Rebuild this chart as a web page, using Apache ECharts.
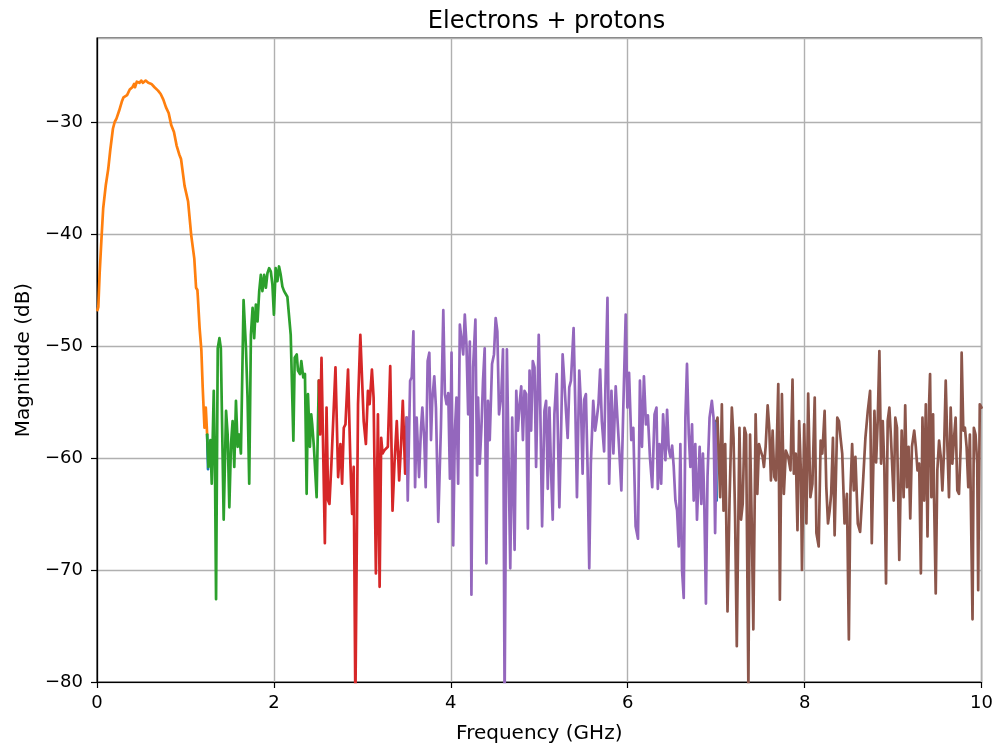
<!DOCTYPE html>
<html>
<head>
<meta charset="utf-8">
<script src="https://cdn.jsdelivr.net/npm/echarts@6/dist/echarts.min.js"></script>
<style>
html,body{margin:0;padding:0;background:#fff;overflow:hidden;}
#chart{width:996px;height:749px;}
</style>
</head>
<body>
<div id="chart"></div>
<script>
const titleText = "Electrons + protons";
const xName = "Frequency (GHz)";
const yName = "Magnitude (dB)";
const xTicks = [0, 2, 4, 6, 8, 10];
const yTicks = [-80, -70, -60, -50, -40, -30];

const blueA = [[1.245,-57.9],[1.255,-61.0]];
const blueB = [[6.995,-56.7],[7.005,-63.8]];

const orange = [[0.005,-46.8],[0.015,-46.5],[0.03,-43.5],[0.05,-40.5],[0.07,-37.7],[0.10,-35.6],[0.127,-34.2],[0.15,-32.5],[0.18,-30.6],[0.20,-30.0],[0.22,-29.7],[0.25,-29.0],[0.28,-28.2],[0.30,-27.8],[0.32,-27.9],[0.34,-27.6],[0.37,-27.1],[0.40,-26.9],[0.42,-26.6],[0.43,-26.9],[0.45,-26.4],[0.48,-26.5],[0.50,-26.3],[0.52,-26.5],[0.55,-26.3],[0.58,-26.5],[0.615,-26.6],[0.65,-26.9],[0.69,-27.2],[0.72,-27.5],[0.75,-28.0],[0.78,-28.7],[0.81,-29.2],[0.84,-30.3],[0.87,-30.9],[0.90,-32.1],[0.93,-32.9],[0.95,-33.3],[0.99,-35.7],[1.03,-37.1],[1.065,-40.1],[1.10,-42.2],[1.12,-44.8],[1.135,-45.0],[1.14,-45.6],[1.16,-48.4],[1.18,-50.4],[1.195,-53.7],[1.215,-57.3],[1.23,-55.5],[1.245,-57.9]];

const green = [[1.245,-57.9],[1.26,-60.8],[1.282,-58.4],[1.297,-62.3],[1.32,-54.0],[1.335,-62.0],[1.346,-72.6],[1.365,-50.2],[1.384,-49.3],[1.40,-50.2],[1.432,-65.5],[1.459,-55.8],[1.477,-57.9],[1.496,-64.4],[1.515,-58.75],[1.533,-56.7],[1.552,-60.8],[1.571,-54.9],[1.59,-59.0],[1.608,-57.9],[1.627,-59.6],[1.657,-45.9],[1.684,-50.2],[1.702,-54.6],[1.721,-62.3],[1.74,-49.0],[1.759,-46.6],[1.777,-49.3],[1.796,-46.3],[1.815,-47.8],[1.834,-45.1],[1.852,-43.65],[1.87,-45.1],[1.89,-43.65],[1.909,-44.8],[1.927,-43.5],[1.946,-43.05],[1.965,-43.35],[1.983,-44.5],[2.0,-47.2],[2.02,-43.05],[2.04,-44.2],[2.058,-42.9],[2.077,-43.65],[2.096,-44.7],[2.115,-45.1],[2.152,-45.6],[2.19,-49.0],[2.22,-58.45],[2.235,-51.05],[2.258,-50.75],[2.272,-52.2],[2.295,-52.5],[2.31,-51.35],[2.332,-52.8],[2.351,-52.5],[2.37,-63.2],[2.385,-54.3],[2.407,-59.0],[2.422,-56.1],[2.433,-57.0],[2.452,-59.0],[2.483,-63.5],[2.497,-57.3],[2.508,-53.1]];

const red = [[2.508,-53.1],[2.522,-57.9],[2.538,-51.05],[2.576,-67.6],[2.595,-55.5],[2.613,-63.8],[2.628,-64.1],[2.65,-60.5],[2.696,-51.9],[2.726,-61.7],[2.752,-58.75],[2.771,-62.3],[2.79,-57.3],[2.809,-57.0],[2.838,-52.1],[2.865,-60.5],[2.884,-65.0],[2.902,-60.8],[2.921,-82],[2.951,-55.2],[2.977,-49.0],[3.015,-56.7],[3.04,-58.75],[3.063,-54.0],[3.082,-55.2],[3.108,-52.1],[3.127,-54.6],[3.153,-70.3],[3.176,-56.1],[3.195,-71.5],[3.213,-58.2],[3.228,-59.6],[3.251,-59.3],[3.288,-59.0],[3.315,-51.8],[3.341,-64.7],[3.363,-60.5],[3.389,-56.7],[3.416,-62.0],[3.438,-58.75],[3.457,-54.9],[3.484,-61.4],[3.50,-56.4]];

const purple = [[3.50,-56.4],[3.513,-63.8],[3.54,-53.1],[3.558,-52.8],[3.577,-48.7],[3.596,-62.6],[3.614,-56.4],[3.641,-61.7],[3.663,-57.3],[3.678,-55.5],[3.70,-58.4],[3.716,-62.6],[3.738,-51.35],[3.757,-50.6],[3.776,-58.4],[3.79,-54.9],[3.813,-52.7],[3.832,-55.5],[3.858,-65.7],[3.888,-57.3],[3.915,-46.8],[3.933,-54.3],[3.952,-55.2],[3.971,-54.2],[3.99,-61.85],[4.008,-50.6],[4.027,-67.8],[4.046,-57.55],[4.064,-54.6],[4.083,-62.3],[4.102,-48.1],[4.12,-48.2],[4.14,-50.75],[4.158,-47.2],[4.177,-49.9],[4.196,-56.1],[4.215,-49.6],[4.233,-72.2],[4.252,-51.9],[4.278,-47.65],[4.297,-61.55],[4.308,-54.6],[4.327,-60.5],[4.346,-57.3],[4.364,-53.1],[4.383,-50.2],[4.402,-69.4],[4.42,-54.9],[4.44,-58.4],[4.466,-51.6],[4.488,-50.75],[4.507,-47.5],[4.526,-48.7],[4.545,-56.1],[4.571,-54.3],[4.59,-50.3],[4.608,-82],[4.634,-50.3],[4.672,-69.85],[4.694,-56.4],[4.721,-68.2],[4.74,-54.0],[4.758,-57.55],[4.777,-55.2],[4.796,-53.6],[4.815,-58.4],[4.833,-54.0],[4.852,-54.3],[4.871,-66.3],[4.89,-52.2],[4.908,-57.55],[4.927,-51.35],[4.946,-51.9],[4.964,-60.8],[4.994,-49.0],[5.009,-54.3],[5.032,-66.1],[5.058,-55.8],[5.077,-54.9],[5.096,-62.75],[5.115,-55.5],[5.133,-61.1],[5.152,-65.5],[5.171,-56.1],[5.197,-52.5],[5.227,-64.4],[5.246,-57.9],[5.264,-50.75],[5.283,-53.1],[5.302,-55.8],[5.321,-58.2],[5.339,-53.7],[5.358,-53.1],[5.388,-48.4],[5.407,-55.2],[5.426,-63.5],[5.452,-52.2],[5.471,-55.2],[5.49,-61.4],[5.508,-54.8],[5.527,-54.3],[5.546,-60.8],[5.565,-69.85],[5.583,-60.5],[5.61,-54.9],[5.632,-57.55],[5.647,-56.7],[5.669,-55.2],[5.688,-52.1],[5.707,-56.7],[5.733,-59.4],[5.752,-52.2],[5.771,-45.7],[5.79,-62.3],[5.816,-54.0],[5.838,-59.6],[5.864,-53.6],[5.883,-56.4],[5.902,-59.0],[5.928,-62.9],[5.95,-55.5],[5.977,-47.2],[5.996,-55.5],[6.015,-52.4],[6.04,-58.4],[6.063,-57.3],[6.089,-66.1],[6.116,-67.2],[6.138,-53.1],[6.161,-59.0],[6.183,-52.7],[6.206,-57.0],[6.228,-56.2],[6.251,-59.9],[6.277,-62.6],[6.303,-56.1],[6.325,-55.5],[6.34,-62.75],[6.359,-58.75],[6.378,-62.3],[6.4,-56.1],[6.426,-60.2],[6.445,-55.7],[6.464,-59.2],[6.483,-59.9],[6.502,-58.9],[6.52,-60.8],[6.539,-63.8],[6.558,-64.7],[6.577,-67.9],[6.595,-58.75],[6.614,-70.0],[6.633,-72.5],[6.652,-56.4],[6.67,-51.6],[6.69,-57.9],[6.708,-60.8],[6.727,-57.0],[6.746,-63.8],[6.764,-58.75],[6.783,-65.5],[6.813,-59.0],[6.832,-64.1],[6.85,-59.6],[6.865,-63.8],[6.884,-73.0],[6.902,-61.7],[6.925,-56.4],[6.951,-54.9],[6.97,-56.4],[6.988,-66.7],[7.007,-56.7]];

const brown = [[7.007,-56.7],[7.015,-56.4],[7.045,-63.5],[7.064,-55.2],[7.083,-64.7],[7.102,-58.75],[7.128,-73.7],[7.151,-63.8],[7.177,-55.5],[7.196,-58.2],[7.214,-65.4],[7.233,-76.8],[7.263,-57.3],[7.281,-65.5],[7.30,-64.1],[7.32,-57.3],[7.338,-57.9],[7.364,-80.5],[7.383,-57.9],[7.402,-65.85],[7.42,-75.3],[7.446,-56.1],[7.465,-63.2],[7.484,-58.75],[7.503,-59.35],[7.525,-59.9],[7.54,-60.8],[7.559,-59.0],[7.582,-55.3],[7.60,-57.3],[7.619,-62.0],[7.638,-57.55],[7.657,-61.7],[7.675,-62.0],[7.702,-53.4],[7.72,-72.65],[7.743,-54.3],[7.765,-63.2],[7.788,-59.35],[7.814,-59.9],[7.84,-61.1],[7.863,-53.0],[7.878,-61.4],[7.90,-59.6],[7.919,-66.45],[7.938,-56.7],[7.957,-61.1],[7.97,-70.0],[7.995,-57.0],[8.02,-65.85],[8.04,-54.25],[8.065,-63.5],[8.088,-62.3],[8.114,-54.6],[8.133,-66.7],[8.159,-67.9],[8.181,-58.45],[8.20,-59.6],[8.226,-55.8],[8.245,-62.6],[8.264,-65.85],[8.283,-64.7],[8.30,-63.2],[8.32,-58.2],[8.339,-66.9],[8.369,-56.4],[8.388,-56.7],[8.406,-58.2],[8.425,-59.6],[8.451,-65.85],[8.478,-63.2],[8.50,-76.2],[8.518,-62.9],[8.537,-58.75],[8.556,-62.9],[8.574,-59.9],[8.601,-65.85],[8.627,-66.6],[8.657,-62.6],[8.687,-58.2],[8.714,-55.8],[8.74,-54.0],[8.759,-67.6],[8.789,-55.8],[8.808,-60.4],[8.826,-56.7],[8.845,-50.45],[8.864,-60.5],[8.883,-56.7],[8.901,-60.8],[8.92,-71.2],[8.939,-56.7],[8.958,-55.5],[8.976,-58.2],[9.007,-63.8],[9.025,-56.4],[9.044,-57.3],[9.07,-69.1],[9.097,-57.55],[9.119,-63.5],[9.137,-55.3],[9.156,-62.6],[9.175,-59.0],[9.194,-65.4],[9.213,-59.0],[9.239,-57.55],[9.257,-59.0],[9.276,-61.1],[9.295,-60.5],[9.314,-70.3],[9.332,-56.4],[9.351,-63.8],[9.37,-55.2],[9.389,-67.0],[9.407,-55.2],[9.418,-52.5],[9.433,-63.5],[9.452,-56.1],[9.463,-63.5],[9.482,-72.1],[9.50,-61.1],[9.52,-58.45],[9.539,-59.9],[9.557,-62.9],[9.576,-59.35],[9.595,-53.1],[9.614,-59.0],[9.632,-63.5],[9.651,-55.5],[9.67,-60.5],[9.689,-58.2],[9.707,-56.4],[9.726,-62.9],[9.745,-63.2],[9.764,-59.0],[9.775,-50.6],[9.794,-57.55],[9.812,-57.3],[9.831,-59.0],[9.85,-62.6],[9.868,-57.9],[9.883,-57.9],[9.898,-74.4],[9.913,-57.3],[9.932,-57.9],[9.951,-60.5],[9.962,-71.8],[9.98,-55.2],[10.0,-55.5]];

const FONT = "DejaVu Sans";
const fmtMinus = v => String(v).replace('-', '\u2212');

function line(name, data, color) {
  return {
    name: name, type: 'line', data: data, showSymbol: false, symbol: 'none',
    lineStyle: { color: color, width: 2.7, join: 'round', cap: 'round' },
    itemStyle: { color: color }, clip: true, silent: true, animation: false
  };
}

const chart = echarts.init(document.getElementById('chart'), null, { renderer: 'canvas' });
chart.setOption({
  backgroundColor: '#ffffff',
  animation: false,
  title: {
    text: titleText, left: 541.5, top: 5, textAlign: 'center',
    textStyle: { fontFamily: FONT, fontSize: 24, fontWeight: 'normal', color: '#000' }
  },
  grid: {
    left: 97, top: 38, width: 889, height: 648,
    show: true, borderColor: '#000', borderWidth: 1.2, backgroundColor: 'transparent'
  },
  xAxis: {
    type: 'value', min: 0, max: 10, interval: 2,
    name: xName, nameLocation: 'middle', nameGap: 42,
    nameTextStyle: { fontFamily: FONT, fontSize: 20, color: '#000' },
    axisLine: { show: true, onZero: false, lineStyle: { color: '#000', width: 1.2 } },
    axisTick: { show: true, length: 6, lineStyle: { color: '#000', width: 1.2 } },
    axisLabel: { fontFamily: FONT, fontSize: 18, color: '#000', margin: 12,
      formatter: v => xTicks.includes(v) ? fmtMinus(v) : '' },
    splitLine: { show: true, lineStyle: { color: '#b0b0b0', width: 1.4 } }
  },
  yAxis: {
    type: 'value', min: -80, max: -22.5, interval: 10,
    name: yName, nameLocation: 'middle', nameGap: 63, nameRotate: 90,
    nameTextStyle: { fontFamily: FONT, fontSize: 20, color: '#000' },
    axisLine: { show: true, onZero: false, lineStyle: { color: '#000', width: 1.2 } },
    axisTick: { show: true, length: 6, lineStyle: { color: '#000', width: 1.2 } },
    axisLabel: { fontFamily: FONT, fontSize: 18, color: '#000', margin: 14, showMaxLabel: false,
      formatter: v => yTicks.includes(v) ? fmtMinus(v) : '' },
    splitLine: { show: true, lineStyle: { color: '#b0b0b0', width: 1.4 } }
  },
  series: [
    line('blueA', blueA, '#1f77b4'),
    line('blueB', blueB, '#1f77b4'),
    line('orange', orange, '#ff7f0e'),
    line('green', green, '#2ca02c'),
    line('red', red, '#d62728'),
    line('purple', purple, '#9467bd'),
    line('brown', brown, '#8c564b')
  ]
});
</script>
</body>
</html>
